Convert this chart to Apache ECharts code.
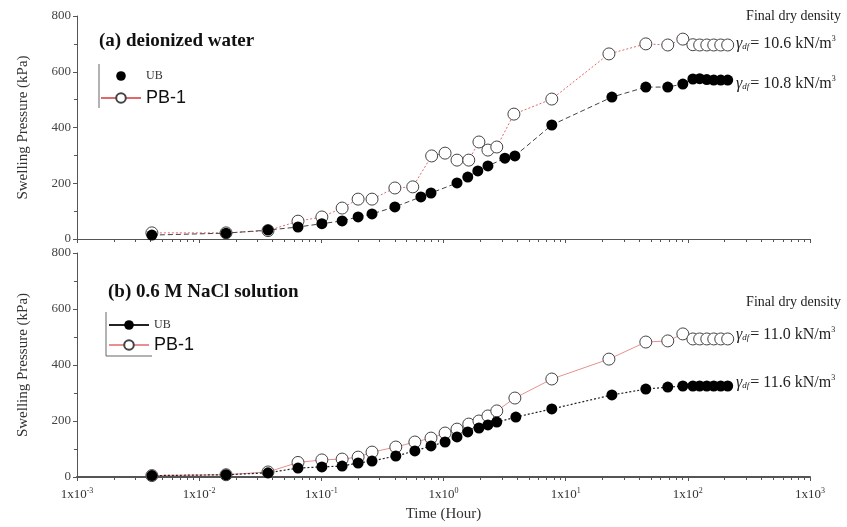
<!DOCTYPE html>
<html><head><meta charset="utf-8">
<script src="https://cdn.jsdelivr.net/npm/echarts@6/dist/echarts.min.js"></script>
<style>html,body{margin:0;padding:0;background:#fff}#c{width:847px;height:527px}</style>
</head><body><div id="c"></div>
<script>
// ---- data ----
const topUBTime = [0.0041, 0.0166, 0.0366, 0.0644, 0.101, 0.148, 0.200, 0.260, 0.40, 0.653, 0.79, 1.29, 1.58, 1.91, 2.31, 3.18, 3.84, 7.7, 23.9, 45.3, 68.5, 91, 110, 125, 143, 163, 186, 212];
const topUBVal  = [14, 21, 32, 43, 55, 65, 79, 90, 115, 151, 165, 201, 222, 244, 262, 290, 298, 409, 509, 545, 545, 556, 574, 575, 572, 570, 570, 570];
const topPBTime = [0.0041, 0.0166, 0.0366, 0.0644, 0.101, 0.148, 0.200, 0.260, 0.40, 0.56, 0.80, 1.03, 1.29, 1.61, 1.95, 2.31, 2.73, 3.77, 7.7, 22.6, 45.3, 68.5, 91, 110, 125, 143, 163, 186, 212];
const topPBVal  = [22, 22, 30, 64, 79, 111, 143, 143, 183, 187, 298, 308, 283, 283, 348, 319, 330, 448, 502, 664, 700, 696, 717, 697, 696, 696, 696, 696, 696];
const botUBTime = [0.0041, 0.0166, 0.0366, 0.0644, 0.101, 0.148, 0.200, 0.26, 0.407, 0.583, 0.79, 1.03, 1.29, 1.58, 1.95, 2.31, 2.73, 3.91, 7.7, 23.9, 45.3, 68.5, 91, 110, 125, 143, 163, 186, 212];
const botUBVal  = [5, 8, 15, 32, 36, 39, 50, 57, 75, 93, 111, 125, 143, 161, 175, 186, 196, 214, 243, 293, 314, 321, 325, 325, 325, 325, 325, 325, 325];
const botPBTime = [0.0041, 0.0166, 0.0366, 0.0644, 0.101, 0.148, 0.200, 0.26, 0.407, 0.583, 0.79, 1.03, 1.29, 1.61, 1.95, 2.31, 2.73, 3.84, 7.7, 22.6, 45.3, 68.5, 91, 110, 125, 143, 163, 186, 212];
const botPBVal  = [5, 8, 18, 52, 61, 64, 71, 89, 107, 125, 139, 157, 171, 189, 200, 218, 236, 282, 350, 421, 482, 486, 511, 493, 493, 493, 493, 493, 493];
const yTicks = [0, 200, 400, 600, 800];
const xMin = 0.001, xMax = 1000;
const seriesNames = ['UB', 'PB-1'];
const panelTitles = ['(a) deionized water', '(b) 0.6 M NaCl solution'];
const densityTop = ['10.6', '10.8'];
const densityBot = ['11.0', '11.6'];

const zip = (t, v) => t.map((x, i) => [x, v[i]]);
const serif = '"Liberation Serif", "Times New Roman", serif';
const sans = '"Liberation Sans", Arial, sans-serif';
const axisCol = '#555';

function xAxis(idx, showLabels) {
  return {
    type: 'log', gridIndex: idx, min: xMin, max: xMax, logBase: 10,
    axisLine: {lineStyle: {color: axisCol, width: showLabels ? 2 : 1}},
    axisTick: {length: 4, lineStyle: {color: axisCol}},
    minorTick: {show: true, splitNumber: 9, length: 3, lineStyle: {color: axisCol}},
    splitLine: {show: false},
    axisLabel: {
      show: showLabels, margin: 10, color: '#333', fontFamily: serif, fontSize: 13,
      formatter: v => '1x10{s|' + Math.round(Math.log10(v)) + '}',
      rich: {s: {fontSize: 8, fontFamily: serif, color: '#333', padding: [0, 0, 8, 0]}}
    },
    name: showLabels ? 'Time (Hour)' : '', nameLocation: 'middle', nameGap: 30,
    nameTextStyle: {fontFamily: serif, fontSize: 15, color: '#333'}
  };
}
function yAxis(idx) {
  return {
    type: 'value', gridIndex: idx, min: yTicks[0], max: yTicks[yTicks.length - 1], interval: yTicks[1] - yTicks[0],
    axisLine: {show: true, lineStyle: {color: axisCol}},
    axisTick: {show: true, length: 4, lineStyle: {color: axisCol}},
    minorTick: {show: true, splitNumber: 2, length: 3, lineStyle: {color: axisCol}},
    splitLine: {show: false},
    axisLabel: {color: '#444', fontFamily: serif, fontSize: 13, margin: 6},
    name: 'Swelling Pressure (kPa)', nameLocation: 'middle', nameGap: 46,
    nameTextStyle: {fontFamily: serif, fontSize: 15, color: '#333'}
  };
}
const openCircle = {color: '#fff', borderColor: '#444', borderWidth: 1};
const series = [
  {name: 'UB', type: 'line', xAxisIndex: 0, yAxisIndex: 0, data: zip(topUBTime, topUBVal),
   symbol: 'circle', symbolSize: 11, itemStyle: {color: '#000'},
   lineStyle: {color: '#444', width: 1, type: [5, 3]}, z: 3},
  {name: 'PB-1', type: 'line', xAxisIndex: 0, yAxisIndex: 0, data: zip(topPBTime, topPBVal),
   symbol: 'circle', symbolSize: 12, itemStyle: openCircle,
   lineStyle: {color: '#e06a6a', width: 1, type: [2, 2]}, z: 2},
  {name: 'UB', type: 'line', xAxisIndex: 1, yAxisIndex: 1, data: zip(botUBTime, botUBVal),
   symbol: 'circle', symbolSize: 11, itemStyle: {color: '#000'},
   lineStyle: {color: '#222', width: 1.2, type: [2, 2]}, z: 3},
  {name: 'PB-1', type: 'line', xAxisIndex: 1, yAxisIndex: 1, data: zip(botPBTime, botPBVal),
   symbol: 'circle', symbolSize: 12, itemStyle: openCircle,
   lineStyle: {color: '#e89090', width: 1}, z: 2}
];
function gammaText(val) {
  return '{g|γ}{d|df}{t|= ' + val + ' kN/m}{s|3}';
}
const richG = {
  g: {fontFamily: serif, fontStyle: 'italic', fontSize: 16, fill: '#222'},
  d: {fontFamily: serif, fontStyle: 'italic', fontSize: 9, padding: [7, 1, 0, 0]},
  t: {fontFamily: serif, fontSize: 16},
  s: {fontFamily: serif, fontSize: 8, padding: [0, 0, 9, 0]}
};
const option = {
  animation: false,
  backgroundColor: '#fff',
  grid: [
    {left: 77, right: 37, top: 16, height: 223},
    {left: 77, right: 37, top: 253, height: 224}
  ],
  xAxis: [xAxis(0, false), xAxis(1, true)],
  yAxis: [yAxis(0), yAxis(1)],
  legend: [
    {left: 100, top: 70, padding: 0, orient: 'vertical', itemGap: 7, itemWidth: 40, itemHeight: 12,
     data: [
       {name: 'UB', textStyle: {fontFamily: serif, fontSize: 12, color: '#333'}, lineStyle: {opacity: 0}},
       {name: 'PB-1', textStyle: {fontFamily: sans, fontSize: 18, color: '#111'}, lineStyle: {type: 'solid', color: '#e06a6a'}}
     ]},
    {left: 108, top: 319, padding: 0, orient: 'vertical', itemGap: 5, itemWidth: 40, itemHeight: 12,
     data: [
       {name: 'UB', textStyle: {fontFamily: serif, fontSize: 12, color: '#333'}, lineStyle: {type: 'solid', color: '#222'}},
       {name: 'PB-1', textStyle: {fontFamily: sans, fontSize: 18, color: '#111'}, lineStyle: {type: 'solid', color: '#e89090'}}
     ]}
  ],
  graphic: [
    {type: 'text', left: 99, top: 32, style: {text: panelTitles[0], fill: '#111', font: 'bold 19px ' + serif}},
    {type: 'text', left: 108, top: 283, style: {text: panelTitles[1], fill: '#111', font: 'bold 19px ' + serif}},
    {type: 'text', right: 6, top: 9, style: {text: 'Final dry density', fill: '#222', font: '14px ' + serif}},
    {type: 'text', right: 6, top: 295, style: {text: 'Final dry density', fill: '#222', font: '14px ' + serif}},
    {type: 'text', left: 736, top: 35, style: {text: gammaText(densityTop[0]), fill: '#222', rich: richG}},
    {type: 'text', left: 736, top: 75, style: {text: gammaText(densityTop[1]), fill: '#222', rich: richG}},
    {type: 'text', left: 736, top: 326, style: {text: gammaText(densityBot[0]), fill: '#222', rich: richG}},
    {type: 'text', left: 736, top: 374, style: {text: gammaText(densityBot[1]), fill: '#222', rich: richG}},
    {type: 'line', shape: {x1: 99, y1: 64, x2: 99, y2: 108}, style: {stroke: '#666', lineWidth: 1}},
    {type: 'polyline', shape: {points: [[106, 312], [106, 356], [152, 356]]}, style: {stroke: '#666', lineWidth: 1, fill: null}}
  ],
  series: series
};
const chart = echarts.init(document.getElementById('c'), null, {renderer: 'canvas'});
chart.setOption(option);
</script></body></html>
